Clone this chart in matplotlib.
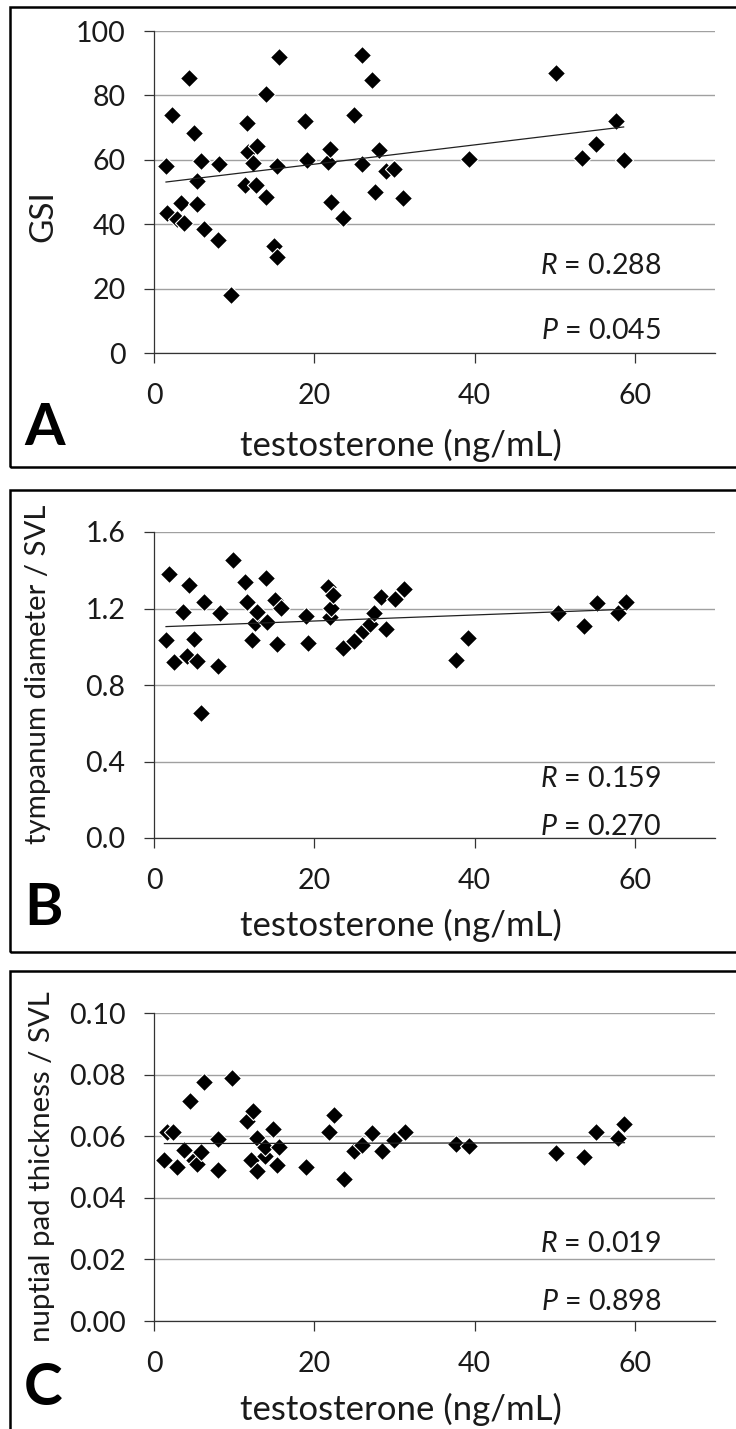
import numpy as np
import matplotlib
matplotlib.use("Agg")
import matplotlib.pyplot as plt
import matplotlib.patches as patches

plt.rcParams['font.family'] = ['Lato', 'DejaVu Sans']
plt.rcParams['mathtext.fontset'] = 'custom'
plt.rcParams['mathtext.rm'] = 'Lato'
plt.rcParams['mathtext.it'] = 'Lato:italic'

# panel A - GSI
gsi_x = [1.5, 1.6, 2.3, 2.9, 3.4, 3.7, 4.4, 5.0, 5.4, 5.4, 5.9, 6.3, 8.0, 8.1, 9.6,
         11.3, 11.6, 11.7, 12.3, 12.7, 12.8, 14.0, 14.0, 15.0, 15.3, 15.4, 15.6,
         18.9, 19.1, 21.7, 21.9, 22.1, 23.6, 24.9, 26.0, 26.0, 27.2, 27.6, 28.1,
         28.9, 30.0, 31.1, 39.3, 50.2, 53.4, 55.2, 57.7, 58.6]
gsi_y = [58.0, 43.6, 73.8, 41.7, 46.6, 40.3, 85.4, 68.4, 53.5, 46.2, 59.5, 38.4, 35.0, 58.8, 18.0,
         52.2, 71.4, 62.4, 59.1, 52.3, 64.2, 80.5, 48.6, 33.2, 58.0, 29.7, 91.9,
         72.2, 59.8, 59.3, 63.2, 47.0, 41.9, 74.0, 92.6, 58.8, 84.7, 50.0, 62.9,
         56.4, 57.2, 48.1, 60.2, 86.9, 60.5, 65.0, 72.2, 60.0]
gsi_trend = (52.65, 0.2995)  # intercept, slope

# panel B - tympanum diameter / SVL
tym_x = [1.5, 1.9, 2.5, 3.6, 4.1, 4.4, 5.0, 5.4, 5.9, 6.3, 8.0, 8.2, 9.8,
         11.3, 11.6, 12.2, 12.6, 12.8, 14.0, 14.1, 15.1, 15.3, 15.9,
         19.0, 19.2, 21.7, 22.0, 22.1, 22.3, 23.6, 25.0, 26.1, 27.0, 27.4,
         28.3, 29.0, 30.1, 31.2, 37.7, 39.2, 50.4, 53.6, 55.3, 57.9, 58.9]
tym_y = [1.037, 1.378, 0.920, 1.180, 0.950, 1.321, 1.042, 0.924, 0.655, 1.232, 0.898, 1.175, 1.456,
         1.340, 1.236, 1.033, 1.123, 1.184, 1.357, 1.132, 1.245, 1.016, 1.201,
         1.161, 1.019, 1.314, 1.154, 1.201, 1.271, 0.993, 1.031, 1.083, 1.120, 1.175,
         1.258, 1.094, 1.248, 1.302, 0.933, 1.045, 1.179, 1.106, 1.227, 1.175, 1.232]
tym_trend = (1.103, 0.00158)

# panel C - nuptial pad thickness / SVL
pad_x = [1.3, 1.6, 2.4, 2.9, 3.8, 4.5, 5.0, 5.4, 5.9, 6.3, 8.0, 8.0, 9.7,
         11.6, 12.1, 12.4, 12.8, 12.9, 13.9, 13.9, 14.9, 15.4, 15.6,
         19.0, 21.8, 22.4, 23.7, 25.0, 26.0, 27.2, 28.4, 30.0, 31.3,
         37.7, 39.3, 50.2, 53.6, 55.2, 57.9, 58.7]
pad_y = [0.0522, 0.0614, 0.0614, 0.0499, 0.0556, 0.0713, 0.0524, 0.0511, 0.0549, 0.0776, 0.0592, 0.0489, 0.0789,
         0.0649, 0.0522, 0.0682, 0.0594, 0.0486, 0.0535, 0.0565, 0.0624, 0.0505, 0.0565,
         0.0499, 0.0614, 0.0668, 0.0462, 0.0551, 0.0570, 0.0610, 0.0551, 0.0587, 0.0614,
         0.0576, 0.0568, 0.0547, 0.0532, 0.0614, 0.0594, 0.0641]
pad_trend = (0.0576, 0.000005)

ylabels = ['GSI', 'tympanum diameter / SVL', 'nuptial pad thickness / SVL']
letters = ['A', 'B', 'C']
r_texts = ['0.288', '0.159', '0.019']
p_texts = ['0.045', '0.270', '0.898']
yticks = [[0, 20, 40, 60, 80, 100], [0.0, 0.4, 0.8, 1.2, 1.6], [0.00, 0.02, 0.04, 0.06, 0.08, 0.10]]
yfmt = ['{:.0f}', '{:.1f}', '{:.2f}']
xticks = [0, 20, 40, 60]

W, H = 736, 1429
fig = plt.figure(figsize=(W / 100, H / 100), dpi=100)

# pixel layout of the three panels
ax_px = [(31, 353), (532, 838), (1013, 1321)]      # top, bottom of plot area
frame_px = [(7, 467), (490, 952), (971, 1431)]     # top, bottom of boxes
letter_base = [445, 925, 1405]
ylab_pos = [(-0.198, 0.425), (-0.207, 0.535), (-0.200, 0.50)]
ylab_size = [24, 21.2, 21.2]
rp_y = [(0.270, 0.068), (0.193, 0.036), (0.250, 0.062)]
left_px, right_px = 154, 715
fs = 20.5

data = [(gsi_x, gsi_y, gsi_trend), (tym_x, tym_y, tym_trend), (pad_x, pad_y, pad_trend)]

for i in range(3):
    top, bot = ax_px[i]
    ax = fig.add_axes([left_px / W, 1 - bot / H, (right_px - left_px) / W, (bot - top) / H])
    xs, ys, (b0, b1) = data[i]

    ax.scatter(xs, ys, marker='D', s=9.2 ** 2, c='black', edgecolors='white',
               linewidths=0.8, zorder=3)
    lx = np.array([min(xs), max(xs)])
    ax.plot(lx, b0 + b1 * lx, color='#222222', lw=0.9, zorder=4)

    ax.set_xlim(0, 70)
    ax.set_ylim(yticks[i][0], yticks[i][-1])
    ax.set_xticks(xticks)
    ax.set_yticks(yticks[i])
    ax.set_yticklabels([yfmt[i].format(v) for v in yticks[i]])
    ax.grid(axis='y', color='#a0a0a0', lw=1.0, zorder=0)
    ax.set_axisbelow(True)
    for s in ['top', 'right']:
        ax.spines[s].set_visible(False)
    for s in ['left', 'bottom']:
        ax.spines[s].set_color('#333333')
        ax.spines[s].set_linewidth(0.9)
    ax.tick_params(direction='out', length=7.5, width=0.9, color='#333333',
                   labelsize=fs, labelcolor='#1a1a1a')
    ax.tick_params(axis='x', pad=14)
    ax.tick_params(axis='y', pad=13)

    ax.set_xlabel('testosterone (ng/mL)', fontsize=25, color='#1a1a1a', va='center')
    ax.xaxis.set_label_coords(0.44, -0.286)
    ax.set_ylabel(ylabels[i], fontsize=ylab_size[i], color='#1a1a1a', va='center')
    ax.yaxis.set_label_coords(*ylab_pos[i])

    ax.text(0.904, rp_y[i][0], r'$\mathit{R}$ = ' + r_texts[i], transform=ax.transAxes,
            ha='right', va='center', fontsize=fs, color='#1a1a1a')
    ax.text(0.904, rp_y[i][1], r'$\mathit{P}$ = ' + p_texts[i], transform=ax.transAxes,
            ha='right', va='center', fontsize=fs, color='#1a1a1a')

    fig.text(24 / W, 1 - letter_base[i] / H, letters[i], fontsize=42, fontweight='bold',
             ha='left', va='baseline')

    ft, fb = frame_px[i]
    fig.add_artist(patches.Rectangle((10 / W, 1 - fb / H), (W + 10) / W, (fb - ft) / H,
                                     transform=fig.transFigure, fill=False,
                                     edgecolor='black', lw=1.8))

fig.savefig('out.png', dpi=100)
